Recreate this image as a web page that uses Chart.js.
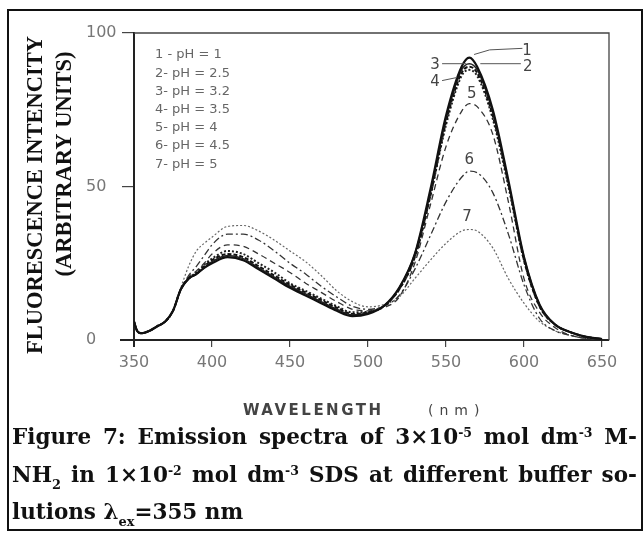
<!DOCTYPE html>
<html>
<head>
<meta charset="utf-8">
<script src="https://cdn.jsdelivr.net/npm/chart.js@4.4.1/dist/chart.umd.min.js"></script>
<style>
  html, body { margin: 0; padding: 0; background: #fff; }
  #wrap { position: relative; width: 644px; height: 535px; overflow: hidden; }
  #myChart { position: absolute; left: 0; top: 0; }
  #frame { position: absolute; left: 7px; top: 9px; width: 636px; height: 522px;
           border: 2.5px solid #111; box-sizing: border-box; pointer-events: none; }
  #caption { position: absolute; left: 12px; top: 418px; width: 625px;
             font-family: "DejaVu Serif", "Liberation Serif", serif; font-weight: bold;
             font-size: 21.5px; line-height: 37.5px; color: #111; white-space: nowrap; }
  #caption .j { text-align: justify; text-align-last: justify; }
  #caption sup { font-size: 0.58em; vertical-align: 0.6em; line-height: 0; }
  #caption sub { font-size: 0.6em; vertical-align: -0.55em; line-height: 0; }
</style>
</head>
<body>
<div id="wrap">
  <canvas id="myChart" width="644" height="535"></canvas>
  <div id="frame"></div>
  <div id="caption">
    <div class="j">Figure 7: Emission spectra of 3×10<sup>-5</sup> mol dm<sup>-3</sup> M-</div>
    <div class="j">NH<sub>2</sub> in 1×10<sup>-2</sup> mol dm<sup>-3</sup> SDS at different buffer so-</div>
    <div>lutions λ<sub>ex</sub>=355 nm</div>
  </div>
</div>
<script>
// wavelength (nm)
const wavelengths = [350, 352, 355, 360, 365, 370, 375, 380, 385, 390, 395, 400, 410, 420, 430, 440, 450, 460, 470, 480,
  490, 500, 510, 520, 530, 540, 550, 560, 565, 570, 580, 590, 600, 610, 620, 630, 640, 650];

// fluorescence intensity, one array per pH
const ph1 = [6, 3, 2.2, 3, 4.5, 6, 9.5, 16.5, 20, 21.5, 23.5, 25, 27, 26, 23, 20, 17, 14.5, 12, 9.5,
  7.8, 8.5, 11, 17, 28, 49, 73, 89, 92, 89, 75, 52, 27, 11.5, 5, 2.5, 1, 0.3];
const ph25 = [6, 3, 2.2, 3, 4.5, 6, 9.5, 16.5, 20, 21.5, 23.5, 25.5, 27.5, 26.5, 23.5, 20.5, 17.5, 15, 12.5, 10,
  8.2, 8.8, 11, 17, 28, 48, 72, 88, 90, 88, 74, 51, 27, 11.5, 5, 2.5, 1, 0.3];
const ph32 = [6, 3, 2.2, 3, 4.5, 6, 9.5, 16.5, 20, 21.5, 24, 26, 28, 27, 24, 21, 18, 15.5, 13, 10.5,
  8.5, 9, 11, 16.5, 27, 47, 71, 87, 89, 87, 73, 51, 26, 11, 5, 2.5, 1, 0.3];
const ph35 = [6, 3, 2.2, 3, 4.5, 6, 9.5, 16.5, 20, 22, 24.5, 26.5, 29, 28, 25, 22, 18.5, 16, 13.5, 11,
  9, 9.2, 11, 16.5, 27, 47, 70, 86, 88, 86, 72, 50, 26, 11, 5, 2.5, 1, 0.3];
const ph4 = [6, 3, 2.2, 3, 4.5, 6, 9.5, 16.5, 20.5, 22.5, 25, 28, 31, 30.5, 28, 25, 22, 18.5, 15.5, 12.5,
  10, 9.5, 10.5, 14, 25, 44, 63, 74.5, 77, 76, 67, 45, 20, 9, 4, 1.5, 0.5, 0.2];
const ph45 = [6, 3, 2.2, 3, 4.5, 6, 9.5, 16.5, 21, 24, 27.5, 31, 34.5, 34.5, 32.5, 29, 25, 21.5, 17.5, 14,
  11, 10, 11, 14.5, 23, 34, 45, 53, 55, 54.5, 48, 34.5, 18, 7, 3, 1.5, 0.5, 0.2];
const ph5 = [6, 3, 2.2, 3, 4.5, 6, 9.5, 17, 24, 29, 31.5, 33.5, 37, 37.3, 35.5, 32.5, 29, 25.5, 21, 16,
  12.5, 10.8, 11.5, 14, 20, 26, 31.5, 35.5, 36, 35.5, 30, 20, 12, 6, 3, 1.5, 0.7, 0.3];

const seriesLabels = ["1 - pH = 1", "2- pH = 2.5", "3- pH = 3.2", "4- pH = 3.5", "5- pH = 4", "6- pH = 4.5", "7- pH = 5"];
const xTicks = [350, 400, 450, 500, 550, 600, 650];
const yTicks = [0, 50, 100];

const allSeries = [ph1, ph25, ph32, ph35, ph4, ph45, ph5];
const styles = [
  { color: "#111", width: 2.2, dash: [] },
  { color: "#222", width: 1.5, dash: [] },
  { color: "#111", width: 2, dash: [4, 2] },
  { color: "#222", width: 2, dash: [2, 2] },
  { color: "#333", width: 1.3, dash: [6, 4] },
  { color: "#333", width: 1.3, dash: [7, 3, 2, 3] },
  { color: "#666", width: 1.2, dash: [2, 2] },
];

// curve number labels near the peaks, in data units, optional leader line
const curveTags = [
  { t: "1", x: 602, y: 94, lead: [[568, 93], [578, 94.5], [599, 95]] },
  { t: "2", x: 602.5, y: 89, lead: [[572, 90], [598, 90]] },
  { t: "3", x: 543, y: 89.5, lead: [[547.5, 90], [563, 90]] },
  { t: "4", x: 543, y: 84, lead: [[547.5, 84.5], [557, 85.5]] },
  { t: "5", x: 566.5, y: 80 },
  { t: "6", x: 565, y: 58.5 },
  { t: "7", x: 563.5, y: 40 },
];

const tickFont = { family: "DejaVu Sans", size: 16 };

const decor = {
  id: "decor",
  afterDraw(chart) {
    const { ctx, chartArea: a, scales } = chart;
    const xs = scales.x, ys = scales.y;
    ctx.save();
    // top and right frame
    ctx.strokeStyle = "#444";
    ctx.lineWidth = 1.3;
    ctx.beginPath();
    ctx.moveTo(a.left, a.top);
    ctx.lineTo(a.right, a.top);
    ctx.lineTo(a.right, a.bottom);
    ctx.stroke();
    // axes run a little past the origin
    ctx.strokeStyle = "#222";
    ctx.lineWidth = 2;
    ctx.beginPath();
    ctx.moveTo(a.left - 14, a.bottom);
    ctx.lineTo(a.left, a.bottom);
    ctx.moveTo(a.left, a.bottom);
    ctx.lineTo(a.left, a.bottom + 7);
    ctx.stroke();

    // y axis title (two lines, rotated)
    ctx.fillStyle = "#111";
    ctx.font = "bold 22.5px 'Liberation Serif'";
    ctx.textAlign = "center";
    ctx.textBaseline = "middle";
    ctx.save();
    ctx.translate(36, 195);
    ctx.rotate(-Math.PI / 2);
    ctx.fillText("FLUORESCENCE INTENCITY", 0, 0);
    ctx.restore();
    ctx.save();
    ctx.translate(65, 164);
    ctx.rotate(-Math.PI / 2);
    ctx.fillText("(ARBITRARY UNITS)", 0, 0);
    ctx.restore();

    // x axis title
    ctx.fillStyle = "#444";
    ctx.font = "bold 15px 'DejaVu Sans'";
    ctx.textAlign = "left";
    ctx.letterSpacing = "2.5px";
    ctx.fillText("WAVELENGTH", 243, 411);
    ctx.font = "14px 'DejaVu Sans'";
    ctx.letterSpacing = "6px";
    ctx.fillText("(nm)", 428, 411);
    ctx.letterSpacing = "0px";

    // legend text block
    ctx.fillStyle = "#666";
    ctx.font = "13px 'DejaVu Sans'";
    seriesLabels.forEach((s, i) => ctx.fillText(s, 155, 55 + i * 18.2));

    // curve tags
    ctx.fillStyle = "#444";
    ctx.font = "15px 'DejaVu Sans'";
    ctx.textAlign = "center";
    ctx.strokeStyle = "#555";
    ctx.lineWidth = 1;
    curveTags.forEach(c => {
      ctx.fillText(c.t, xs.getPixelForValue(c.x), ys.getPixelForValue(c.y));
      if (c.lead) {
        ctx.beginPath();
        c.lead.forEach((p, k) => {
          const px = xs.getPixelForValue(p[0]), py = ys.getPixelForValue(p[1]);
          if (k === 0) ctx.moveTo(px, py); else ctx.lineTo(px, py);
        });
        ctx.stroke();
      }
    });
    ctx.restore();
  },
};

const ctx = document.getElementById("myChart");

new Chart(ctx, {
  type: "line",
  data: {
    datasets: allSeries.map((vals, i) => ({
      label: seriesLabels[i],
      data: vals.map((v, k) => ({ x: wavelengths[k], y: v })),
      borderColor: styles[i].color,
      borderWidth: styles[i].width,
      borderDash: styles[i].dash,
      pointRadius: 0,
      fill: false,
      cubicInterpolationMode: "monotone",
    })),
  },
  options: {
    responsive: false,
    animation: false,
    events: [],
    layout: { padding: { left: 86, top: 33, right: 35, bottom: 150 } },
    plugins: { legend: { display: false }, tooltip: { enabled: false } },
    scales: {
      x: {
        type: "linear",
        min: 350,
        max: 654.5,
        afterBuildTicks: s => { s.ticks = xTicks.map(v => ({ value: v })); },
        afterFit: s => { s.height = 45; },
        ticks: { font: tickFont, color: "#777", padding: 6, maxRotation: 0 },
        grid: { drawOnChartArea: false, tickLength: 7, color: "#444", lineWidth: 1.2 },
        border: { color: "#222", width: 2 },
      },
      y: {
        min: 0,
        max: 100,
        afterBuildTicks: s => { s.ticks = yTicks.map(v => ({ value: v })); },
        afterFit: s => { s.width = 48; },
        ticks: { font: tickFont, color: "#777", padding: 3, crossAlign: "far" },
        grid: { drawOnChartArea: false, tickLength: 12, color: "#444", lineWidth: 1.2 },
        border: { color: "#222", width: 2 },
      },
    },
  },
  plugins: [decor],
});
</script>
</body>
</html>
